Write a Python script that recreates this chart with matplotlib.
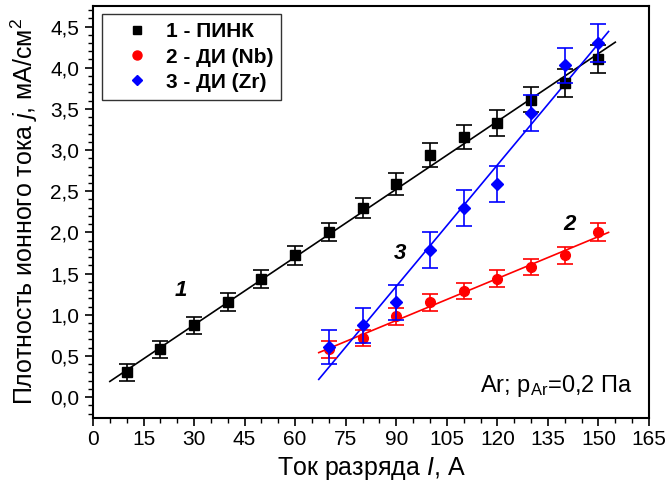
import matplotlib
matplotlib.use('Agg')
import matplotlib.pyplot as plt
import numpy as np
from matplotlib.ticker import MultipleLocator
from matplotlib.lines import Line2D

plt.rcParams['font.family'] = ['Liberation Sans', 'DejaVu Sans']
plt.rcParams['mathtext.fontset'] = 'custom'
plt.rcParams['mathtext.rm'] = 'Liberation Sans'
plt.rcParams['mathtext.it'] = 'Liberation Sans:italic'

# 1 - ПИНК
x1 = [10, 20, 30, 40, 50, 60, 70, 80, 90, 100, 110, 120, 130, 140, 150]
y1 = [0.30, 0.58, 0.87, 1.15, 1.43, 1.72, 2.01, 2.30, 2.59, 2.94, 3.16, 3.33, 3.61, 3.81, 4.10]
e1 = [0.10, 0.10, 0.10, 0.11, 0.11, 0.11, 0.11, 0.12, 0.13, 0.14, 0.15, 0.16, 0.15, 0.17, 0.17]

# 2 - ДИ (Nb)
x2 = [70, 80, 90, 100, 110, 120, 130, 140, 150]
y2 = [0.58, 0.72, 0.98, 1.15, 1.29, 1.44, 1.58, 1.72, 2.01]
e2 = [0.10, 0.10, 0.10, 0.10, 0.10, 0.10, 0.10, 0.10, 0.11]

# 3 - ДИ (Zr)
x3 = [70, 80, 90, 100, 110, 120, 130, 140, 150]
y3 = [0.61, 0.87, 1.15, 1.79, 2.30, 2.59, 3.45, 4.03, 4.30]
e3 = [0.21, 0.21, 0.21, 0.22, 0.22, 0.22, 0.22, 0.21, 0.23]

# linear fits (end points)
fit1_x = [5, 155]
fit1_y = [0.19, 4.31]
fit2_x = [67, 153]
fit2_y = [0.54, 2.00]
fit3_x = [67, 153]
fit3_y = [0.215, 4.44]

labels = ['1 - ПИНК', '2 - ДИ (Nb)', '3 - ДИ (Zr)']

fig = plt.figure(figsize=(6.67, 4.97), dpi=100)
ax = fig.add_axes([0.1394, 0.1596, 0.8336, 0.8284])

ax.plot(fit1_x, fit1_y, color='black', lw=1.2, zorder=2)
ax.plot(fit2_x, fit2_y, color='red', lw=1.2, zorder=2)
ax.plot(fit3_x, fit3_y, color='blue', lw=1.2, zorder=2)

ax.errorbar(x1, y1, yerr=e1, fmt='s', color='black', ms=6.5, capsize=5.5,
            elinewidth=1.2, capthick=1.2, zorder=3)
ax.errorbar(x2, y2, yerr=e2, fmt='o', color='red', ms=7, capsize=5.5,
            elinewidth=1.2, capthick=1.2, zorder=3)
ax.errorbar(x3, y3, yerr=e3, fmt='D', color='blue', ms=6, capsize=5.5,
            elinewidth=1.2, capthick=1.2, zorder=4)

ax.set_xlim(0, 165)
ax.set_ylim(-0.25, 4.75)
ax.xaxis.set_minor_locator(MultipleLocator(5))
ax.yaxis.set_minor_locator(MultipleLocator(0.1))
yt = np.arange(0, 4.51, 0.5)
ax.set_yticks(yt)
ax.set_yticklabels([f'{v:.1f}'.replace('.', ',') for v in yt])
ax.set_xticks(np.arange(0, 166, 15))

ax.tick_params(which='major', direction='out', length=6, width=1.2, labelsize=15, pad=4)
ax.tick_params(which='minor', direction='out', length=3.5, width=1.0)
ax.tick_params(axis='x', which='major', pad=3)
for s in ax.spines.values():
    s.set_linewidth(1.5)

ax.set_xlabel('Ток разряда $\\mathit{I}$, А', fontsize=18, labelpad=4)
ax.set_ylabel('Плотность ионного тока $\\mathit{j}$, мА/см$^2$', fontsize=18, labelpad=7)

ax.text(26, 1.3, '1', fontsize=16, fontweight='bold', fontstyle='italic', ha='center', va='center')
ax.text(141.5, 2.1, '2', fontsize=16, fontweight='bold', fontstyle='italic', ha='center', va='center')
ax.text(91, 1.74, '3', fontsize=16, fontweight='bold', fontstyle='italic', ha='center', va='center')
ax.text(160.2, 0.13, 'Ar; p$_{\\mathrm{Ar}}$=0,2 Па', fontsize=17, ha='right', va='center')

handles = [Line2D([], [], ls='none', marker='s', color='black', ms=6),
           Line2D([], [], ls='none', marker='o', color='red', ms=6.5),
           Line2D([], [], ls='none', marker='D', color='blue', ms=5.5)]
leg = ax.legend(handles, labels, loc='upper left', frameon=True, fancybox=False,
                edgecolor='black', prop={'weight': 'bold', 'size': 15},
                handlelength=2.6, handletextpad=0.05, borderpad=0.4,
                labelspacing=0.3, borderaxespad=0, bbox_to_anchor=(0.0162, 0.9806))
leg.get_frame().set_linewidth(1.0)

fig.savefig('out.png', dpi=100)
